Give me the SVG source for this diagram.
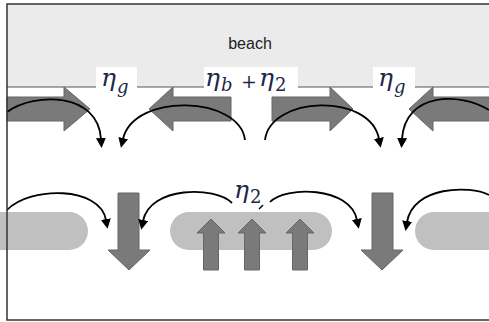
<svg xmlns="http://www.w3.org/2000/svg" width="489" height="322" viewBox="0 0 489 322">
  <style>
    .frame { stroke: #333; stroke-width: 1.5; fill: none; }
    .shore { stroke: #555; stroke-width: 1; fill: none; }
    .flow { fill: #7a7a7a; stroke: #666; stroke-width: 1; }
    .bar { fill: #c0c0c0; }
    .swirl { fill: none; stroke: #000; stroke-width: 1.8; marker-end: url(#tip); }
    .math { font-family: "DejaVu Serif", "Liberation Serif", serif; font-style: italic; font-size: 25px; fill: #1c2848; }
    .sub { font-size: 18px; }
    .up { font-style: normal; }
    .op { font-style: normal; font-size: 19px; }
    .label { font-family: "Liberation Sans", Arial, sans-serif; font-size: 16px; fill: #222; }
  </style>
  <defs>
    <marker id="tip" markerUnits="userSpaceOnUse" markerWidth="12" markerHeight="12" refX="1" refY="5" orient="auto">
      <path d="M0,0 L10,5 L0,10 z" fill="#000"/>
    </marker>
  </defs>

  <rect x="0" y="0" width="489" height="322" fill="#fff"/>

  <!-- beach strip -->
  <g id="beach">
    <rect x="7" y="4" width="482" height="83" fill="#ebebeb"/>
    <line class="shore" x1="7" y1="87" x2="489" y2="87"/>
    <text class="label" x="250" y="49" text-anchor="middle">beach</text>
  </g>

  <!-- bars -->
  <g id="bars">
    <rect class="bar" x="-20" y="212" width="108" height="38" rx="19"/>
    <rect class="bar" x="170" y="212" width="162" height="38" rx="19"/>
    <rect class="bar" x="415" y="212" width="110" height="38" rx="19"/>
  </g>

  <!-- longshore currents -->
  <g id="longshore">
    <polygon class="flow" points="7,97 64,97 64,87 90,109 64,131 64,121 7,121"/>
    <polygon class="flow" points="231,97 173,97 173,87 149,109 173,131 173,121 231,121"/>
    <polygon class="flow" points="272,97 330,97 330,87 353,109 330,131 330,121 272,121"/>
    <polygon class="flow" points="490,97 433,97 433,87 409,109 433,131 433,121 490,121"/>
  </g>

  <!-- rip currents and onshore flow over the bar -->
  <g id="rips">
    <polygon class="flow" points="118,193 139,193 139,250 150,250 129,270 108,250 118,250"/>
    <polygon class="flow" points="372,193 393,193 393,250 403,250 382,270 361,250 372,250"/>
  </g>
  <g id="onshore">
    <polygon class="flow" points="203.5,270 218.5,270 218.5,233 225,233 211,219 197,233 203.5,233"/>
    <polygon class="flow" points="244.5,270 259.5,270 259.5,233 266,233 252,219 238,233 244.5,233"/>
    <polygon class="flow" points="292.5,270 307.5,270 307.5,233 314,233 300,219 286,233 292.5,233"/>
  </g>

  <!-- circulation arrows -->
  <g id="connectors">
    <path class="swirl" d="M7,112 C35,92 98,92 101,139"/>
    <path class="swirl" d="M245,140 C240,96 134,92 123,139"/>
    <path class="swirl" d="M265,140 C270,96 370,92 379,139"/>
    <path class="swirl" d="M489,110 C460,92 405,92 402,139"/>
    <path class="swirl" d="M7,210 C30,186 100,186 106,220"/>
    <path class="swirl" d="M232,203 C215,186 150,186 143,221"/>
    <path class="swirl" d="M270,202 C285,186 350,186 357,220"/>
    <path class="swirl" d="M489,195 C470,185 413,186 407,222"/>
    <path d="M259,209 L263,205" stroke="#000" stroke-width="1.5" fill="none"/>
  </g>

  <!-- water level labels -->
  <g id="eta-g-left">
    <rect x="96" y="67" width="41" height="21" fill="#fff"/>
    <text class="math"><tspan x="101" y="86">η</tspan><tspan class="sub" x="117" y="93">g</tspan></text>
  </g>
  <g id="eta-b-eta-2">
    <rect x="204" y="67" width="94" height="21" fill="#fff"/>
    <text class="math"><tspan x="205" y="86">η</tspan><tspan class="sub" x="221" y="91">b</tspan><tspan class="op" x="241" y="88">+</tspan><tspan x="259" y="86">η</tspan><tspan class="sub up" x="275" y="91">2</tspan></text>
  </g>
  <g id="eta-g-right">
    <rect x="373" y="67" width="42" height="21" fill="#fff"/>
    <text class="math"><tspan x="378" y="86">η</tspan><tspan class="sub" x="394" y="93">g</tspan></text>
  </g>
  <g id="eta-2">
    <text class="math"><tspan x="234" y="198">η</tspan><tspan class="sub up" x="250" y="203">2</tspan></text>
  </g>

  <!-- frame -->
  <g id="frame">
    <polyline class="frame" points="489,4 7,4 7,320 489,320"/>
  </g>
</svg>
